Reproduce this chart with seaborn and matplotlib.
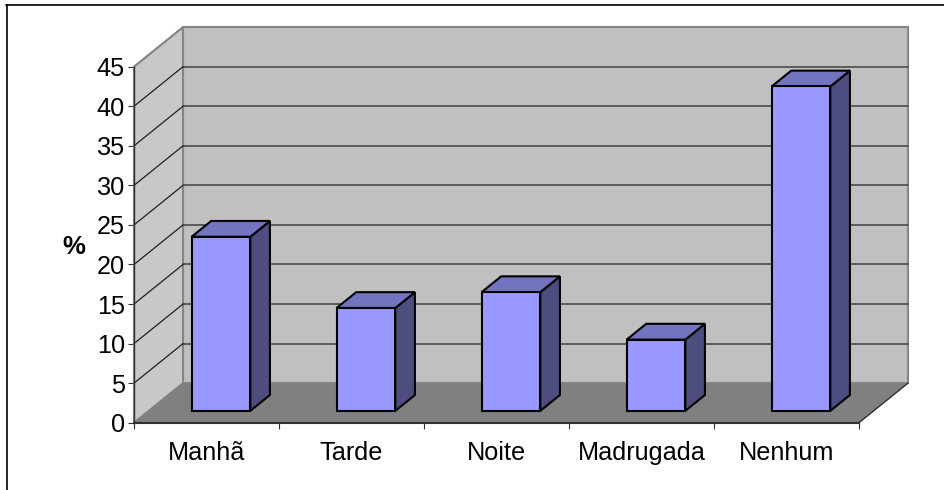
import pandas as pd
import matplotlib
matplotlib.use("Agg")
import matplotlib.pyplot as plt
from matplotlib.patches import Polygon
from matplotlib.lines import Line2D
import seaborn as sns

periodos = ["Manhã", "Tarde", "Noite", "Madrugada", "Nenhum"]
valores = [22, 13, 15, 9, 41]
yticks = [0, 5, 10, 15, 20, 25, 30, 35, 40, 45]

# fake 3d depth, in data units
DX = 0.338
DY = 5.0

sns.set_theme(style="white")
plt.rcParams['font.family'] = ['Liberation Sans', 'DejaVu Sans']

fig = plt.figure(figsize=(9.44, 4.9), dpi=100)
ax = fig.add_axes([134 / 944, (490 - 422.7) / 490, 725 / 944, 356 / 490])

df = pd.DataFrame({"periodo": periodos, "pct": valores})
sns.barplot(data=df, x="periodo", y="pct", color="#9999FF", saturation=1, width=0.405,
            edgecolor="black", linewidth=1.5, ax=ax)

x0, x1 = -0.5, len(periodos) - 0.5
y0, y1 = 0, yticks[-1]
ax.set_xlim(x0, x1)
ax.set_ylim(y0, y1)
ax.patch.set_visible(False)


def poly(pts, fc, ec="none", lw=0.0, z=1.0):
    ax.add_patch(Polygon(pts, closed=True, facecolor=fc, edgecolor=ec, linewidth=lw,
                         zorder=z, clip_on=False, joinstyle="miter"))


# walls and floor
poly([(x0 + DX, y0 + DY), (x1 + DX, y0 + DY), (x1 + DX, y1 + DY), (x0 + DX, y1 + DY)],
     "#C0C0C0", "#858585", 1.5, 0.5)
poly([(x0, y0), (x0 + DX, y0 + DY), (x0 + DX, y1 + DY), (x0, y1)],
     "#C8C8C8", "#858585", 1.5, 0.6)
poly([(x0, y0), (x1, y0), (x1 + DX, y0 + DY), (x0 + DX, y0 + DY)], "#808080", z=0.7)

for v in yticks[1:-1]:
    ax.plot([x0 + DX, x1 + DX], [v + DY, v + DY], color="#404040", lw=1.1, zorder=0.8, clip_on=False)
for v in yticks[1:]:
    ax.plot([x0, x0 + DX], [v, v + DY], color="#202020" if v < 45 else "#858585",
            lw=0.9, zorder=0.9, clip_on=False)
ax.plot([x1, x1 + DX], [y0, y0 + DY], color="#303030", lw=1.0, zorder=0.9, clip_on=False)

# bars sit in the middle of the depth
for bar in ax.patches[:]:
    if isinstance(bar, Polygon):
        continue
    bar.set_x(bar.get_x() + 0.295 * DX)
    bar.set_y(bar.get_y() + 0.3 * DY)
    bar.set_zorder(3)
    bar.set_clip_on(False)
    bar.set_joinstyle("miter")
    l, r = bar.get_x(), bar.get_x() + bar.get_width()
    b, t = bar.get_y(), bar.get_y() + bar.get_height()
    dx, dy = 0.4 * DX, 0.4 * DY
    poly([(r, b), (r + dx, b + dy), (r + dx, t + dy), (r, t)], "#4D4D80", "black", 1.5, 2.9)
    poly([(l, t), (r, t), (r + dx, t + dy), (l + dx, t + dy)], "#7373BF", "black", 1.5, 2.9)

sns.despine(ax=ax)
ax.spines["left"].set_color("#303030")
ax.spines["bottom"].set_color("#303030")
ax.spines["left"].set_linewidth(1.0)
ax.spines["bottom"].set_linewidth(1.5)

ax.set_yticks(yticks)
ax.set_xticks([x0 + i for i in range(len(periodos) + 1)], minor=True)
ax.tick_params(axis="y", left=True, length=4, width=0.8, color="#303030", labelsize=18.2,
               pad=2.5, labelcolor="black")
ax.tick_params(axis="x", which="major", bottom=False, labelsize=18.2, pad=7.5, labelcolor="black")
ax.tick_params(axis="x", which="minor", bottom=True, length=4.5, width=0.8, color="#303030")

ax.set_xlabel("")
ax.set_ylabel("%", rotation=0, fontsize=18.5, fontweight="bold", color="black",
              ha="center", va="center")
ax.yaxis.set_label_coords((73.5 - 134) / 725, (422.7 - 247.5) / 356)

# chart area border, only top and left show up
fig.add_artist(Line2D([6.5 / 944, 6.5 / 944], [0, 1 - 5.5 / 490], color="black", lw=1.2))
fig.add_artist(Line2D([6 / 944, 1], [1 - 5.5 / 490, 1 - 5.5 / 490], color="black", lw=1.2))

fig.savefig("out.png", dpi=100)
